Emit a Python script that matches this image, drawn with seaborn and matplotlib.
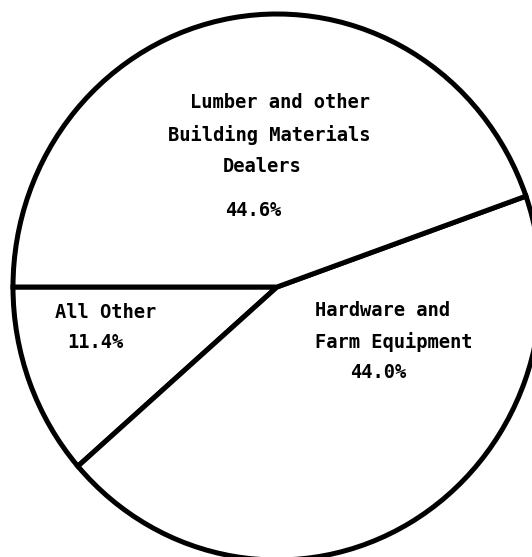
import matplotlib
matplotlib.use("Agg")
import matplotlib.pyplot as plt
import seaborn as sns

# Share of sales by kind of business
categories = ["All Other", "Hardware and Farm Equipment",
              "Lumber and other Building Materials Dealers"]
shares = [11.4, 44.0, 44.6]

# Caption lines written inside each slice (category text, then the share)
caption_lines = [
    ["All Other"],
    ["Hardware and", "Farm Equipment"],
    ["Lumber and other", "Building Materials", "Dealers"],
]

sns.set_theme(style="white")
plt.rcParams["font.family"] = ["DejaVu Sans Mono", "DejaVu Sans"]

W, H = 532, 557
fig = plt.figure(figsize=(W / 100, H / 100), dpi=100)
fig.patch.set_facecolor("white")

# Circle centre and radii in pixels (slightly taller than wide)
cx, cy, rx, ry = 277, 287, 264, 273
ax = fig.add_axes([(cx - rx) / W, (H - cy - ry) / H, 2 * rx / W, 2 * ry / H])

ax.pie(shares, startangle=180, counterclock=True,
       colors=["white"] * len(shares),
       wedgeprops=dict(edgecolor="black", linewidth=3.6))
ax.set_aspect("auto")
ax.set_xlim(-1, 1)
ax.set_ylim(-1, 1)
ax.axis("off")


def px(x, y):
    return (x - cx) / rx, (cy - y) / ry


# Left edge and row centre (pixels) for each caption line
layout = [
    [(55, 312), (67, 342)],
    [(315, 310), (315, 342), (350, 372)],
    [(190, 102), (168, 135), (223, 167), (225, 211)],
]

for lines, share, rows in zip(caption_lines, shares, layout):
    texts = lines + [f"{share:.1f}%"]
    for t, (x, y) in zip(texts, rows):
        dx, dy = px(x, y)
        ax.text(dx, dy, t, ha="left", va="center", fontsize=13.5,
                fontweight="bold", color="black")

fig.savefig("out.png", dpi=100, facecolor="white")
